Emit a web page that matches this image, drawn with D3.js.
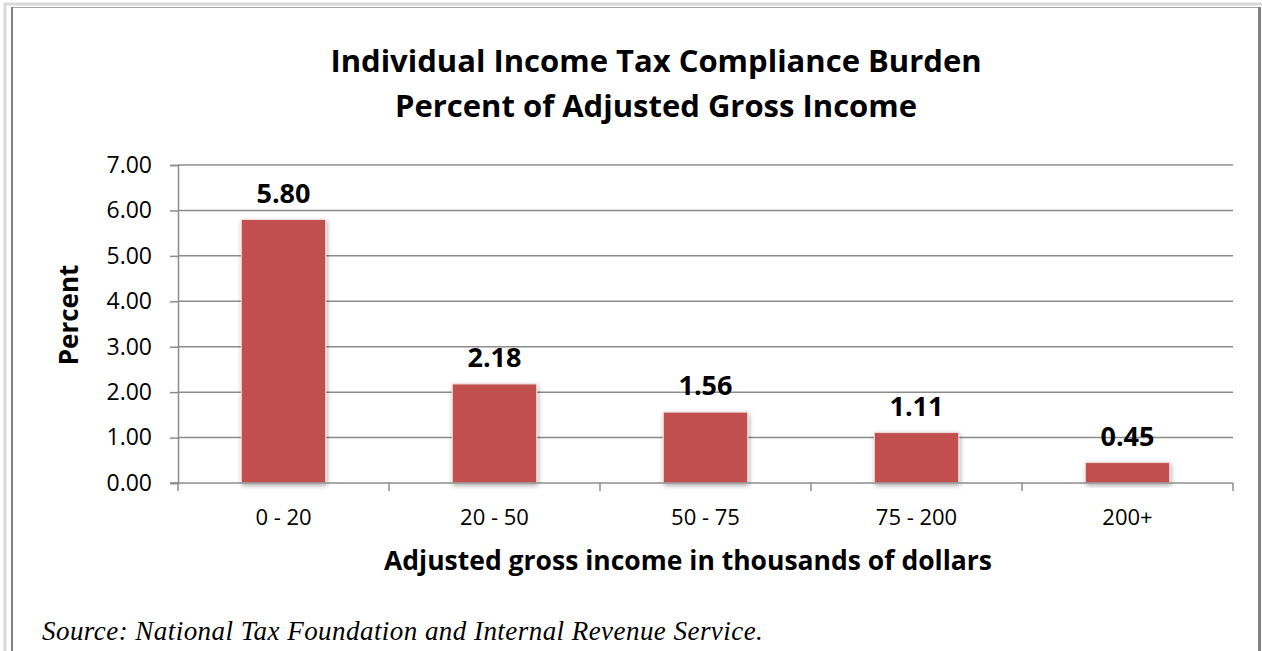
<!DOCTYPE html>
<html><head><meta charset="utf-8">
<script src="https://cdn.jsdelivr.net/npm/d3@7"></script>
<style>body{margin:0;background:#fff}svg{display:block}</style>
</head><body>
<svg id="c" width="1262" height="651"></svg>
<script>
const categories = ["0 - 20", "20 - 50", "50 - 75", "75 - 200", "200+"];
const values = [5.80, 2.18, 1.56, 1.11, 0.45];
const yTicks = [0, 1, 2, 3, 4, 5, 6, 7];
const titleLines = ["Individual Income Tax Compliance Burden", "Percent of Adjusted Gross Income"];
const xTitle = "Adjusted gross income in thousands of dollars";
const yTitle = "Percent";
const sourceText = "Source:  National Tax Foundation and Internal Revenue Service.";

const svg = d3.select("#c");
const W = 1262, H = 651;
const font = "'Open Sans', 'Liberation Sans', sans-serif";

// frame
svg.append("rect").attr("x", 5).attr("y", 4).attr("width", 1260).attr("height", 660)
  .attr("fill", "none").attr("stroke", "#d9d9d9").attr("stroke-width", 3);
svg.append("rect").attr("x", 12).attr("y", 7.5).attr("width", 1247).attr("height", 660)
  .attr("fill", "none").attr("stroke", "#a6a6a6").attr("stroke-width", 1);
svg.append("line").attr("x1", 12).attr("x2", 12).attr("y1", 7).attr("y2", H)
  .attr("stroke", "#808080").attr("stroke-width", 2);
svg.append("line").attr("x1", 1259.5).attr("x2", 1259.5).attr("y1", 7).attr("y2", H)
  .attr("stroke", "#808080").attr("stroke-width", 3);

const m = {left: 178, right: 1233, top: 165, bottom: 483};
const x = d3.scaleBand().domain(categories).range([m.left, m.right]);
const y = d3.scaleLinear().domain([0, 7]).range([m.bottom, m.top]);

// gridlines
svg.append("g").selectAll("line").data(yTicks.filter(d => d > 0)).join("line")
  .attr("x1", m.left).attr("x2", m.right)
  .attr("y1", d => y(d)).attr("y2", d => y(d))
  .attr("stroke", "#8c8c8c").attr("stroke-width", 1.5);

// y axis
const yAxis = svg.append("g").attr("transform", `translate(${m.left},0)`)
  .call(d3.axisLeft(y).tickValues(yTicks).tickFormat(d3.format(".2f")).tickSize(8).tickPadding(18));
yAxis.select(".domain").attr("stroke", "#8c8c8c").attr("stroke-width", 1.5);
yAxis.selectAll(".tick line").attr("stroke", "#8c8c8c").attr("stroke-width", 1.5);
yAxis.selectAll("text").attr("font-family", font).attr("font-size", 23).attr("fill", "#000");

// shadow filter
const defs = svg.append("defs");
const f = defs.append("filter").attr("id", "sh").attr("x", "-20%").attr("y", "-20%").attr("width", "140%").attr("height", "140%");
f.append("feGaussianBlur").attr("in", "SourceAlpha").attr("stdDeviation", 2.5).attr("result", "b");
f.append("feOffset").attr("in", "b").attr("dx", 1).attr("dy", 2).attr("result", "o");
f.append("feComponentTransfer").attr("in", "o").attr("result", "o2")
  .append("feFuncA").attr("type", "linear").attr("slope", 0.35);
const mg = f.append("feMerge");
mg.append("feMergeNode").attr("in", "o2");
mg.append("feMergeNode").attr("in", "SourceGraphic");

// bars
const bw = x.bandwidth() * 0.4;
const off = (x.bandwidth() - bw) / 2;
svg.append("g").selectAll("rect").data(values).join("rect")
  .attr("x", (d, i) => x(categories[i]) + off)
  .attr("y", d => y(d))
  .attr("width", bw)
  .attr("height", d => y(0) - y(d))
  .attr("fill", "#c0504d")
  .attr("stroke", "#f2dcdb").attr("stroke-width", 1)
  .attr("filter", "url(#sh)");

// x axis
const xAxis = svg.append("g").attr("transform", `translate(0,${m.bottom})`)
  .call(d3.axisBottom(x).tickSize(0).tickPadding(26));
xAxis.select(".domain").remove();
svg.append("line").attr("x1", m.left - 8).attr("x2", m.right).attr("y1", m.bottom).attr("y2", m.bottom)
  .attr("stroke", "#8c8c8c").attr("stroke-width", 1.5);
const bounds = categories.map(c => x(c)).concat([m.right]);
svg.append("g").selectAll("line").data(bounds).join("line")
  .attr("x1", d => d).attr("x2", d => d).attr("y1", m.bottom).attr("y2", m.bottom + 8)
  .attr("stroke", "#8c8c8c").attr("stroke-width", 1.5);
xAxis.selectAll("text").attr("font-family", font).attr("font-size", 22).attr("fill", "#000");

// value labels
svg.append("g").selectAll("text").data(values).join("text")
  .attr("x", (d, i) => x(categories[i]) + x.bandwidth() / 2)
  .attr("y", d => y(d) - 17)
  .attr("text-anchor", "middle")
  .attr("font-family", font).attr("font-weight", "bold").attr("font-size", 27)
  .text(d => d3.format(".2f")(d));

// title
svg.append("g").selectAll("text").data(titleLines).join("text")
  .attr("x", 656).attr("y", (d, i) => 72 + i * 45)
  .attr("text-anchor", "middle")
  .attr("font-family", font).attr("font-weight", "bold").attr("font-size", 31)
  .text(d => d);

// axis titles
svg.append("text").attr("x", 688).attr("y", 570).attr("text-anchor", "middle")
  .attr("font-family", font).attr("font-weight", "bold").attr("font-size", 26.5)
  .text(xTitle);
svg.append("text").attr("transform", "translate(78,315) rotate(-90)").attr("text-anchor", "middle")
  .attr("font-family", font).attr("font-weight", "bold").attr("font-size", 26)
  .text(yTitle);

// source
svg.append("text").attr("x", 42).attr("y", 640)
  .attr("font-family", "'Liberation Serif', 'Times New Roman', serif").attr("font-style", "italic").attr("font-size", 27)
  .attr("letter-spacing", 0.45)
  .text(sourceText);
</script>
</body></html>
